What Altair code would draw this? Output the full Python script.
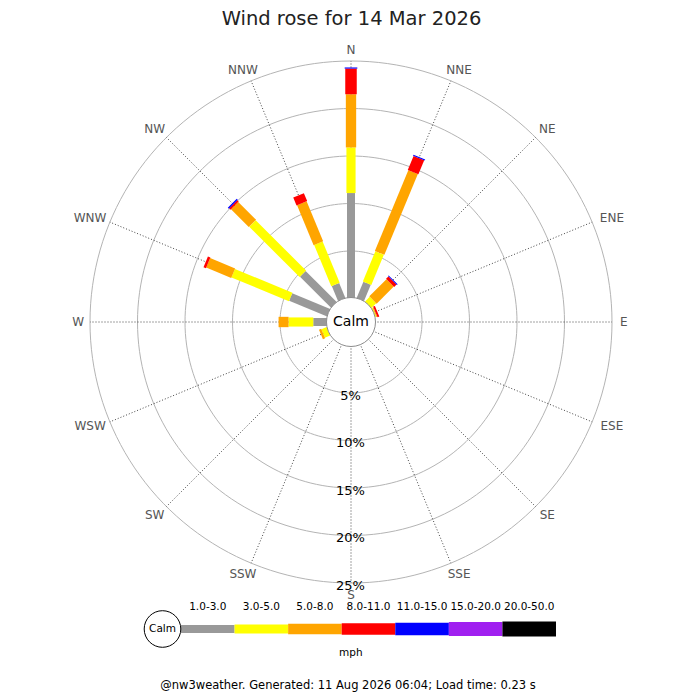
import altair as alt
import pandas as pd

# ---------------- data ----------------
directions = ["N", "NNE", "NE", "ENE", "E", "ESE", "SE", "SSE",
              "S", "SSW", "SW", "WSW", "W", "WNW", "NW", "NNW"]
classes = ["1.0-3.0", "3.0-5.0", "5.0-8.0", "8.0-11.0",
           "11.0-15.0", "15.0-20.0", "20.0-50.0"]
class_colors = ["#999999", "#ffff00", "#ffa500", "#ff0000",
                "#0000ff", "#a020f0", "#000000"]
class_widths = [8, 15, 21, 23.3, 25.3, 27, 28.3]

# percentage of the day per direction and speed class (mph)
pct_1_3 = [11.1, 1.95, 0.0, 0.05, 0, 0, 0, 0, 0, 0, 0, 0.1, 1.5, 4.4, 4.7, 1.8]
pct_3_5 = [4.8, 3.45, 0.8, 0.15, 0, 0, 0, 0, 0, 0, 0, 0.6, 2.6, 6.55, 7.5, 4.7]
pct_5_8 = [5.6, 9.2, 2.55, 0.1, 0, 0, 0, 0, 0, 0, 0, 0.25, 1.05, 2.85, 2.65, 4.55]
pct_8_11 = [2.7, 1.6, 0.35, 0.2, 0, 0, 0, 0, 0, 0, 0, 0, 0, 0.28, 0.2, 0.9]
pct_11_15 = [0.12, 0.12, 0.1, 0, 0, 0, 0, 0, 0, 0, 0, 0, 0, 0, 0.15, 0]
pct_15_20 = [0, 0, 0, 0, 0, 0, 0, 0, 0, 0, 0, 0, 0, 0, 0, 0]
pct_20_50 = [0, 0, 0, 0, 0, 0, 0, 0, 0, 0, 0, 0, 0, 0, 0, 0]

ring_pcts = [5, 10, 15, 20, 25]
ring_labels = ["5%", "10%", "15%", "20%", "25%"]

title_text = "Wind rose for 14 Mar 2026"
footer_text = "@nw3weather. Generated: 11 Aug 2026 06:04; Load time: 0.23 s"

series = [pct_1_3, pct_3_5, pct_5_8, pct_8_11, pct_11_15, pct_15_20, pct_20_50]
rows = []
for k, (cls, vals) in enumerate(zip(classes, series)):
    for di, (d, v) in enumerate(zip(directions, vals)):
        rows.append({"dir": d, "di": di, "cls": cls, "k": k, "value": v})
bars_df = pd.DataFrame(rows)
dir_df = pd.DataFrame({"dir": directions, "di": list(range(len(directions)))})
ring_df = pd.DataFrame({"p": ring_pcts, "label": ring_labels})
legend_df = pd.DataFrame({"cls": classes, "k": list(range(len(classes)))})
one = pd.DataFrame({"x": [0], "y": [0]})

# ---------------- geometry (1 % = 9.5 px, calm circle radius in % units) ----
PX = 9.5
OFF = 23.5 / PX
XS = alt.Scale(domain=[-30, 30], range=[343 - 285, 343 + 285], nice=False, zero=False)
YS = alt.Scale(domain=[-30, 30], range=[314 + 285, 314 - 285], nice=False, zero=False)
LX = alt.Scale(domain=[0, 7], range=[173, 548], nice=False, zero=False)
COL = alt.Scale(domain=classes, range=class_colors)
WID = alt.Scale(domain=classes, range=class_widths)
FONT = "DejaVu Sans"

rings = alt.Chart(ring_df).transform_calculate(
    ang="sequence(0, 361, 2)"
).transform_flatten(["ang"]).transform_calculate(
    rx=f"({OFF} + datum.p) * sin(datum.ang * PI / 180)"
).transform_calculate(
    ry=f"({OFF} + datum.p) * cos(datum.ang * PI / 180)"
).mark_line(color="#b4b4b4", strokeWidth=1).encode(
    x=alt.X("rx:Q", scale=XS, axis=None),
    y=alt.Y("ry:Q", scale=YS, axis=None),
    detail="p:N",
    order="ang:Q",
)

spokes = alt.Chart(dir_df).transform_calculate(
    a="datum.di * 22.5 * PI / 180"
).transform_calculate(
    xs=f"{OFF} * sin(datum.a)"
).transform_calculate(
    ys=f"{OFF} * cos(datum.a)"
).transform_calculate(
    xe=f"({OFF} + 25) * sin(datum.a)"
).transform_calculate(
    ye=f"({OFF} + 25) * cos(datum.a)"
).mark_rule(color="#444444", strokeWidth=1, strokeDash=[1, 2]).encode(
    x=alt.X("xs:Q", scale=XS, axis=None),
    y=alt.Y("ys:Q", scale=YS, axis=None),
    x2="xe:Q",
    y2="ye:Q",
)

bars = alt.Chart(bars_df).transform_filter(
    "datum.value > 0"
).transform_window(
    cum="sum(value)", groupby=["dir"], sort=[alt.SortField("k")], frame=[None, 0]
).transform_calculate(
    a="datum.di * 22.5 * PI / 180"
).transform_calculate(
    r1=f"{OFF} + datum.cum - datum.value"
).transform_calculate(
    r2=f"{OFF} + datum.cum"
).transform_calculate(
    bx1="datum.r1 * sin(datum.a)"
).transform_calculate(
    by1="datum.r1 * cos(datum.a)"
).transform_calculate(
    bx2="datum.r2 * sin(datum.a)"
).transform_calculate(
    by2="datum.r2 * cos(datum.a)"
).mark_rule(strokeCap="butt").encode(
    x=alt.X("bx1:Q", scale=XS, axis=None),
    y=alt.Y("by1:Q", scale=YS, axis=None),
    x2="bx2:Q",
    y2="by2:Q",
    color=alt.Color("cls:N", scale=COL, legend=None),
    size=alt.Size("cls:N", scale=WID, legend=None),
    order=alt.Order("k:Q"),
)

calm_circle = alt.Chart(one).mark_point(
    shape="circle", filled=True, fill="white", stroke="#8c8c8c",
    strokeWidth=1, size=2401, opacity=1
).encode(
    x=alt.X("x:Q", scale=XS, axis=None),
    y=alt.Y("y:Q", scale=YS, axis=None),
)
calm_text = alt.Chart(one).mark_text(
    text="Calm", font=FONT, fontSize=14, color="black", baseline="middle", align="center"
).encode(
    x=alt.X("x:Q", scale=XS, axis=None),
    y=alt.Y("y:Q", scale=YS, axis=None),
)

ring_text = alt.Chart(ring_df).transform_calculate(
    ty=f"-({OFF} + datum.p) - 0.3"
).transform_calculate(
    tx="-0.05"
).mark_text(font=FONT, fontSize=13, color="black", baseline="middle", align="center").encode(
    x=alt.X("tx:Q", scale=XS, axis=None),
    y=alt.Y("ty:Q", scale=YS, axis=None),
    text="label:N",
)

dir_text = alt.Chart(dir_df).transform_calculate(
    a="datum.di * 22.5 * PI / 180"
).transform_calculate(
    hw="length(datum.dir) * 4.8"
).transform_calculate(
    lx=f"({OFF} + 25) * sin(datum.a) + sin(datum.a) * (7 + datum.hw) / {PX}"
).transform_calculate(
    ly=f"({OFF} + 25) * cos(datum.a) + cos(datum.a) * (7 + 4.5) / {PX}"
).mark_text(font=FONT, fontSize=12, color="#555555", baseline="middle", align="center").encode(
    x=alt.X("lx:Q", scale=XS, axis=None),
    y=alt.Y("ly:Q", scale=YS, axis=None),
    text="dir:N",
)

title = alt.Chart(one).mark_text(
    text=title_text, font=FONT, fontSize=19.5, color="#222222",
    baseline="middle", align="center"
).encode(x=alt.value(343.5), y=alt.value(10.5))

# ---------------- legend ----------------
leg_bars = alt.Chart(legend_df).transform_calculate(
    k1="datum.k + 1"
).mark_rule(strokeCap="butt").encode(
    x=alt.X("k:Q", scale=LX, axis=None),
    x2="k1:Q",
    y=alt.value(621),
    color=alt.Color("cls:N", scale=COL, legend=None),
    size=alt.Size("cls:N", scale=WID, legend=None),
)
leg_text = alt.Chart(legend_df).transform_calculate(
    km="datum.k + 0.5"
).mark_text(font=FONT, fontSize=10.5, color="black", baseline="middle", align="center").encode(
    x=alt.X("km:Q", scale=LX, axis=None),
    y=alt.value(599.3),
    text="cls:N",
)
leg_calm = alt.Chart(one).mark_point(
    shape="circle", filled=True, fill="white", stroke="black",
    strokeWidth=1, size=1340, opacity=1
).encode(x=alt.value(154.5), y=alt.value(621))
leg_calm_text = alt.Chart(one).mark_text(
    text="Calm", font=FONT, fontSize=10.5, color="black", baseline="middle", align="center"
).encode(x=alt.value(154.5), y=alt.value(621))
mph = alt.Chart(one).mark_text(
    text="mph", font=FONT, fontSize=10.5, color="black", baseline="middle", align="center"
).encode(x=alt.value(342.8), y=alt.value(645.3))
footer = alt.Chart(one).mark_text(
    text=footer_text, font=FONT, fontSize=11.5, color="black", baseline="middle", align="center"
).encode(x=alt.value(340), y=alt.value(678))

chart = alt.layer(
    rings, spokes, bars, calm_circle, calm_text, ring_text, dir_text, title,
    leg_bars, leg_text, leg_calm, leg_calm_text, mph, footer
).resolve_scale(
    x="independent", y="independent"
).properties(
    width=684, height=684, padding=0,
    autosize=alt.AutoSizeParams(type="none"),
    background="white",
).configure_view(stroke=None)

chart.save("out.html", embed_options={"renderer": "svg", "actions": False})
